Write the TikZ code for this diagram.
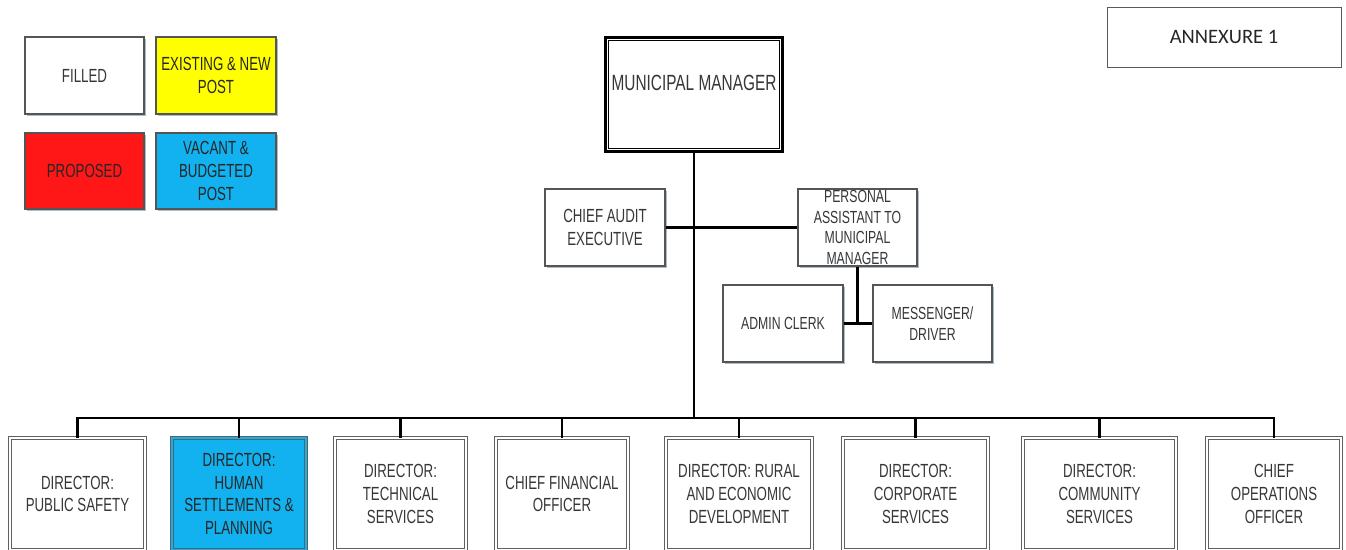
\documentclass[tikz,border=0pt]{standalone}
\usepackage{fontspec}
\setmainfont[FakeStretch=0.7]{Liberation Sans}
\newfontfamily\annexfont{Carlito}
\usetikzlibrary{shadows}
\definecolor{vacant}{RGB}{18,178,240}
\definecolor{proposed}{RGB}{255,22,22}
\definecolor{newpost}{RGB}{255,255,0}
\definecolor{boxline}{RGB}{85,85,85}
\definecolor{shade}{RGB}{150,170,185}
\definecolor{txt}{RGB}{55,55,55}
\tikzset{
    post/.style={
        draw=boxline, line width=1.1pt, fill=white, align=center, text=txt,
        inner sep=1pt, font=\fontsize{19}{22.8}\selectfont,
        drop shadow={shadow xshift=2.2pt, shadow yshift=-2.2pt, fill=shade, opacity=0.8}
    },
    small post/.style={post, font=\fontsize{17.5}{20.5}\selectfont},
    director/.style={
        post, draw=gray!75!black, line width=1pt, double distance=1.8pt,
        minimum width=#1, minimum height=112pt
    },
    link/.style={line width=2.4pt, black}
}

\begin{document}
\begin{tikzpicture}[x=1pt, y=-1pt]
    \clip (0,0) rectangle (1346,549);
    % legend
    \node[post, minimum width=119pt, minimum height=77pt] (filled) at (84.5,75.5) {FILLED};
    \node[post, fill=newpost, text=black!85, minimum width=120pt, minimum height=77pt] (newp) at (216,75.5) {EXISTING \& NEW\\POST};
    \node[post, fill=proposed, text=black!85, minimum width=119pt, minimum height=76pt] (prop) at (84.5,171) {PROPOSED};
    \node[post, fill=vacant, text=black!85, minimum width=120pt, minimum height=76pt] (vac) at (216,171) {VACANT \&\\BUDGETED\\POST};
    \node[draw=gray!70!black, line width=1pt, minimum width=234pt, minimum height=60pt,
          font=\annexfont\fontsize{20.5}{24}\selectfont, text=black!85] (annex) at (1224,37) {ANNEXURE 1};

    % office of the municipal manager
    \node[draw=black, line width=3.4pt, fill=white, align=center, text=txt, minimum width=177pt, minimum height=114pt,
          font=\fontsize{22}{24}\selectfont] (mm) at (694,94.5) {MUNICIPAL MANAGER\\\mbox{}};
    \draw[line width=1.3pt] ([xshift=4.4pt,yshift=4.4pt]mm.south west) rectangle ([xshift=-4.4pt,yshift=-4.4pt]mm.north east);
    \node[post, minimum width=120pt, minimum height=77pt] (cae) at (605,227.5) {CHIEF AUDIT\\EXECUTIVE};
    \node[small post, minimum width=119pt, minimum height=77pt] (pa) at (857.5,227.5) {PERSONAL\\ASSISTANT TO\\MUNICIPAL\\MANAGER};
    \node[small post, minimum width=120pt, minimum height=77pt] (clerk) at (783,323.5) {ADMIN CLERK};
    \node[small post, minimum width=119pt, minimum height=77pt] (msg) at (932.5,323.5) {MESSENGER/\\DRIVER};

    % directorates
    \foreach \nm/\x/\w/\fl/\tc/\txt in {
        ps/77.5/135/white/txt/{DIRECTOR:\\PUBLIC SAFETY},
        hsp/239/134/vacant/black!85/{DIRECTOR:\\HUMAN\\SETTLEMENTS \&\\PLANNING},
        ts/400.5/131/white/txt/{DIRECTOR:\\TECHNICAL\\SERVICES},
        cfo/562/132/white/txt/{CHIEF FINANCIAL\\OFFICER},
        red/739/146/white/txt/{DIRECTOR: RURAL\\AND ECONOMIC\\DEVELOPMENT},
        cs/915.5/145/white/txt/{DIRECTOR:\\CORPORATE\\SERVICES},
        comm/1099.5/153/white/txt/{DIRECTOR:\\COMMUNITY\\SERVICES},
        coo/1274/134/white/txt/{CHIEF\\OPERATIONS\\OFFICER}}
        \node[director=\w, fill=\fl, double=\fl, text=\tc] (\nm) at (\x,494) {\txt};

    % reporting lines
    \coordinate (bus) at (694,418);
    \draw[link] (mm.south) -- (bus);
    \draw[link] (cae.east) -- (pa.west);
    \draw[link] (pa.south) -- (pa.south |- clerk.east);
    \draw[link] (clerk.east) -- (msg.west);
    \draw[link] (ps.north) |- (bus) -| (coo.north);
    \foreach \nm in {hsp,ts,cfo,red,cs,comm}
        \draw[link] (\nm.north) -- (\nm.north |- bus);
\end{tikzpicture}
\end{document}
